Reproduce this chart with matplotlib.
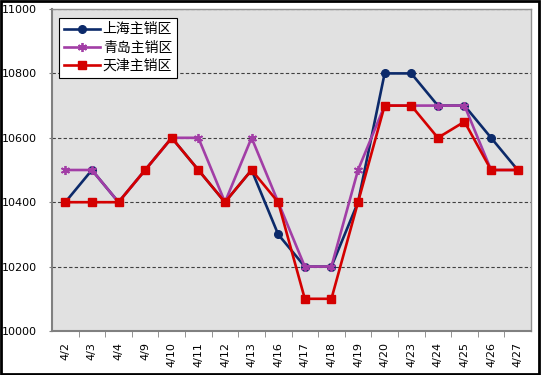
import matplotlib
matplotlib.use("Agg")
import matplotlib.pyplot as plt
from matplotlib.patches import Rectangle

dates = ["4/2", "4/3", "4/4", "4/9", "4/10", "4/11", "4/12", "4/13", "4/16",
         "4/17", "4/18", "4/19", "4/20", "4/23", "4/24", "4/25", "4/26", "4/27"]
shanghai = [10400, 10500, 10400, 10500, 10600, 10500, 10400, 10500, 10300,
            10200, 10200, 10400, 10800, 10800, 10700, 10700, 10600, 10500]
qingdao = [10500, 10500, 10400, 10500, 10600, 10600, 10400, 10600, 10400,
           10200, 10200, 10500, 10700, 10700, 10700, 10700, 10500, 10500]
tianjin = [10400, 10400, 10400, 10500, 10600, 10500, 10400, 10500, 10400,
           10100, 10100, 10400, 10700, 10700, 10600, 10650, 10500, 10500]
series_names = ["上海主销区", "青岛主销区", "天津主销区"]
yticks = [10000, 10200, 10400, 10600, 10800, 11000]

plt.rcParams['font.family'] = ['Noto Sans CJK SC', 'DejaVu Sans']

fig = plt.figure(figsize=(5.41, 3.75), dpi=100)
ax = fig.add_axes([52/541, 1-331/375, (531-52)/541, (331-9)/375])
ax.set_facecolor('#e1e1e1')

x = list(range(len(dates)))
ax.plot(x, shanghai, color='#0c2a6a', lw=1.9, marker='o', ms=5.5,
        label=series_names[0], zorder=3)
ax.plot(x, qingdao, color='#a23ea6', lw=1.9, marker=(6, 2, 0), ms=6.5,
        mew=1.3, label=series_names[1], zorder=4)
ax.plot(x, tianjin, color='#d40000', lw=1.9, marker='s', ms=5.5,
        label=series_names[2], zorder=5)

ax.set_xlim(-0.5, len(dates) - 0.5)
ax.set_ylim(10000, 11000)
ax.set_yticks(yticks)
ax.set_yticklabels([str(v) for v in yticks], fontsize=8, family='DejaVu Sans')
ax.tick_params(axis='y', length=2.5, pad=8.5, color='#808080')
ax.yaxis.grid(True, linestyle=(0, (3, 2)), color='#404040', lw=0.8)
ax.set_axisbelow(True)

ax.set_xticks(x)
ax.set_xticklabels(dates, rotation=90, fontsize=8, family='DejaVu Sans')
ax.tick_params(axis='x', length=0, pad=8)
ax.set_xticks([i + 0.5 for i in range(len(dates) - 1)], minor=True)
ax.tick_params(axis='x', which='minor', length=4, color='#808080')

for s in ['left', 'bottom']:
    ax.spines[s].set_color('#808080')
    ax.spines[s].set_linewidth(1.5)
for s in ['top', 'right']:
    ax.spines[s].set_color('#909090')
    ax.spines[s].set_linewidth(1.0)

leg = ax.legend(loc='upper left', bbox_to_anchor=(0.0, 0.995), fontsize=10,
                frameon=True, fancybox=False, edgecolor='black',
                framealpha=1, handlelength=2.6, borderpad=0.35,
                labelspacing=0.3, handletextpad=0.2)
leg.get_frame().set_linewidth(0.8)

fig.patches.append(Rectangle((0.002, 0.003), 0.995, 0.994, transform=fig.transFigure,
                             fill=False, edgecolor='black', lw=2))

fig.savefig('out.png', dpi=100)
